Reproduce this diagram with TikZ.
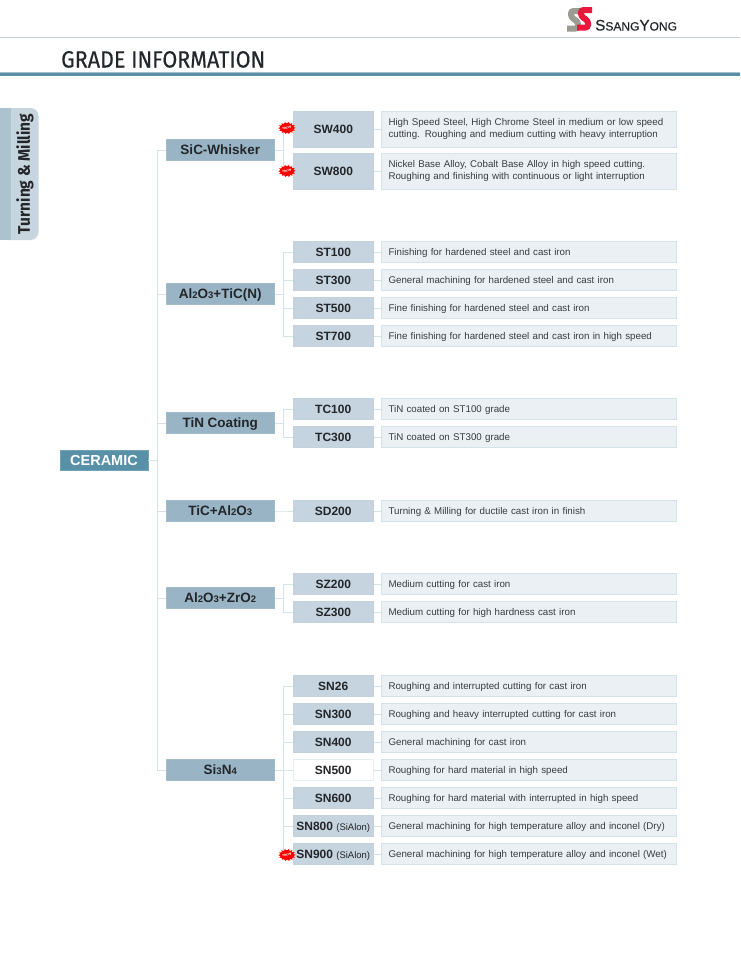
\documentclass[tikz,border=0pt]{standalone}
\usepackage{fontspec}
\setmainfont{Liberation Sans}
\newfontfamily\dinfont[FakeStretch=0.915, FakeBold=0.3]{Fira Sans}
\newfontfamily\tabfont[FakeStretch=0.92]{Fira Sans}
\usetikzlibrary{shapes.geometric}
\definecolor{BarTeal}{RGB}{88, 144, 168}
\definecolor{GroupBlue}{RGB}{152, 180, 197}
\definecolor{GradeBlue}{RGB}{197, 212, 222}
\definecolor{DescFill}{RGB}{235, 240, 245}
\definecolor{LineBlue}{RGB}{212, 226, 233}
\definecolor{TabDark}{RGB}{172, 194, 207}
\definecolor{TabLight}{RGB}{199, 213, 222}
\definecolor{LogoRed}{RGB}{234, 24, 60}
\definecolor{LogoGrey}{RGB}{155, 155, 147}
\definecolor{InkDark}{RGB}{35, 38, 42}
\newcommand{\sm}[1]{{\fontsize{9.5}{10}\selectfont #1}}
\tikzset{
    rootbox/.style={fill=BarTeal, draw=BarTeal!85!white, line width=0.5pt, text=white, minimum width=88pt, minimum height=20pt, inner sep=0pt, text height=10.4pt, text depth=0pt, font=\fontsize{14.5}{16}\selectfont\bfseries},
    groupbox/.style={fill=GroupBlue, draw=GroupBlue!90!white, line width=0.5pt, text=InkDark, minimum width=108.5pt, minimum height=21pt, inner sep=0pt, text height=9.6pt, text depth=0pt, font=\fontsize{13.5}{16}\selectfont\bfseries},
    gradebase/.style={fill=GradeBlue, draw=GroupBlue!60!white, line width=0.6pt, text=InkDark, minimum width=80.5pt, inner sep=0pt, text height=8.6pt, text depth=0pt, font=\fontsize{12}{14}\selectfont\bfseries},
    gradebox/.style={gradebase, minimum height=21pt},
    tallbox/.style={gradebase, minimum height=36pt},
    whitebox/.style={gradebox, fill=white, draw=LineBlue!60!white},
    descbase/.style={fill=DescFill, draw=LineBlue, line width=0.7pt, text=InkDark!90!white, inner xsep=7.5pt, inner ysep=0pt, text width=280.5pt, align=left, font=\fontsize{9.75}{12}\selectfont},
    descbox/.style={descbase, minimum height=21pt, text height=7.2pt, text depth=0pt},
    talldesc/.style={descbase, minimum height=36pt},
    link/.style={LineBlue, line width=1pt},
    newburst/.style={star, star points=14, star point ratio=1.3, fill=red, text=white, minimum size=10pt, inner sep=0pt, xscale=1.15, yscale=0.8, rotate=14},
}
\begin{document}
\begin{tikzpicture}[x=1pt, y=-1pt]
    \useasboundingbox[fill=white] (0,0) rectangle (740,980);
    % header
    \draw[LineBlue!80!gray, line width=0.8pt] (0,37.5) -- (740,37.5);
    \fill[BarTeal!55!white] (0,72) rectangle (740,73);
    \fill[BarTeal] (0,73) rectangle (740,75.5);
    \node[anchor=base west, inner sep=0pt, font=\dinfont\fontsize{23.5}{26}\selectfont, text=InkDark] (title) at (61,67.5) {GRADE INFORMATION};
    % logo
    \draw[LogoGrey, line width=6pt, rounded corners=2.5pt] (582,11) -- (571,11) -- (571,17) -- (578,22) -- (578,28.5) -- (567,28.5);
    \draw[LogoRed, line width=6pt, rounded corners=2.5pt] (592,10) -- (581,10) -- (581,16) -- (588,21) -- (588,27.5) -- (577,27.5);
    \node[anchor=base west, inner sep=0pt, text=InkDark] (logotext) at (595,30.5) {\addfontfeature{FakeBold=0.4}\fontsize{15.3}{16}\selectfont S\fontsize{12}{16}\selectfont SANG\fontsize{15.3}{16}\selectfont Y\fontsize{12}{16}\selectfont ONG};
    % side tab
    \fill[TabLight, rounded corners=8pt] (0,108) -- (38.5,108) -- (38.5,240) -- (0,240) -- cycle;
    \fill[TabDark] (0,108) rectangle (11,240);
    \node[rotate=90, inner sep=0pt, text=InkDark, font=\tabfont\fontsize{16.8}{20}\selectfont\bfseries] (tab) at (25,174) {Turning \& Milling};
    % root and groups
    \node[rootbox] (ceramic) at (104,460) {CERAMIC};
    \foreach \nm/\y/\lbl in {sic/150/SiC-Whisker, alti/294/{Al\sm{2}O\sm{3}+TiC(N)}, tin/423/TiN Coating, tic/511/{TiC+Al\sm{2}O\sm{3}}, alzr/598/{Al\sm{2}O\sm{3}+ZrO\sm{2}}, sin/770/{Si\sm{3}N\sm{4}}} {
        \node[groupbox] (\nm) at (220.25,\y) {\lbl};
        \draw[link] (ceramic.east) -- ++(9,0) |- (\nm.west);
    }
    % grades with their descriptions
    \foreach \grp/\nm/\y/\gs/\ds/\lbl/\txt in {
        sic/sw400/129/tallbox/talldesc/SW400/{High Speed Steel, High Chrome Steel in medium or low speed\\cutting. Roughing and medium cutting with heavy interruption},
        sic/sw800/171/tallbox/talldesc/SW800/{Nickel Base Alloy, Cobalt Base Alloy in high speed cutting.\\Roughing and finishing with continuous or light interruption},
        alti/st100/252/gradebox/descbox/ST100/Finishing for hardened steel and cast iron,
        alti/st300/280/gradebox/descbox/ST300/General machining for hardened steel and cast iron,
        alti/st500/308/gradebox/descbox/ST500/Fine finishing for hardened steel and cast iron,
        alti/st700/336/gradebox/descbox/ST700/Fine finishing for hardened steel and cast iron in high speed,
        tin/tc100/409/gradebox/descbox/TC100/TiN coated on ST100 grade,
        tin/tc300/437/gradebox/descbox/TC300/TiN coated on ST300 grade,
        tic/sd200/511/gradebox/descbox/SD200/Turning \& Milling for ductile cast iron in finish,
        alzr/sz200/584/gradebox/descbox/SZ200/Medium cutting for cast iron,
        alzr/sz300/612/gradebox/descbox/SZ300/Medium cutting for high hardness cast iron,
        sin/sn26/686/gradebox/descbox/SN26/Roughing and interrupted cutting for cast iron,
        sin/sn300/714/gradebox/descbox/SN300/Roughing and heavy interrupted cutting for cast iron,
        sin/sn400/742/gradebox/descbox/SN400/General machining for cast iron,
        sin/sn500/770/whitebox/descbox/SN500/Roughing for hard material in high speed,
        sin/sn600/798/gradebox/descbox/SN600/Roughing for hard material with interrupted in high speed,
        sin/sn800/826/gradebox/descbox/{SN800 {\mdseries\fontsize{9.5}{10}\selectfont(SiAlon)}}/General machining for high temperature alloy and inconel (Dry),
        sin/sn900/854/gradebox/descbox/{SN900 {\mdseries\fontsize{9.5}{10}\selectfont(SiAlon)}}/General machining for high temperature alloy and inconel (Wet)} {
        \node[\gs] (\nm) at (333.25,\y) {\lbl};
        \node[\ds] (\nm-d) at (528.75,\y) {\txt};
        \draw[link] (\grp.east) -- ++(9,0) |- (\nm.west);
        \draw[link] (\nm.east) -- (\nm-d.west);
    }
    % new marks
    \foreach \nm/\y in {new1/128, new2/171, new3/855} {
        \node[newburst] (\nm) at (287,\y) {\fontsize{3.5}{4}\selectfont\bfseries NEW};
    }
\end{tikzpicture}
\end{document}
